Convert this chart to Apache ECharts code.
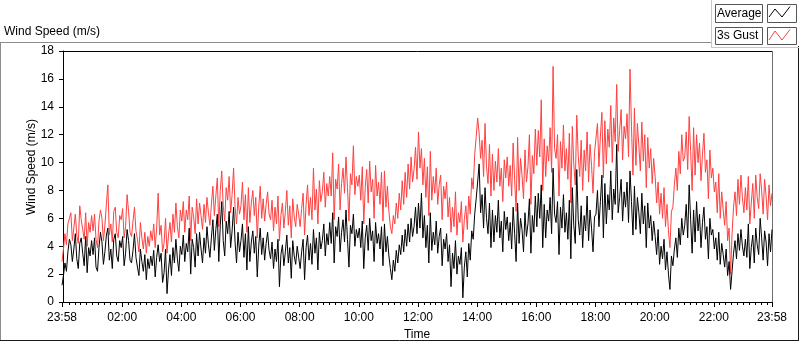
<!DOCTYPE html>
<html>
<head>
<meta charset="utf-8">
<script src="https://cdn.jsdelivr.net/npm/echarts@6/dist/echarts.min.js"></script>
<style>
  html, body { margin: 0; padding: 0; background: #fff; }
  #main { width: 800px; height: 342px; }
</style>
</head>
<body>
<div id="main"></div>
<script>
// samples every 3 minutes, first one at 23:58 of the previous day (one row = one hour)
var startMinute = -2;
var stepMinutes = 3;

var avgSpeed = [
  1.2, 1.9, 2.8, 2.2, 3.6, 4.5, 4.1, 2.9, 3.8, 4.9, 3.1, 2.4, 4.2, 4.6, 3.5, 2.6, 4.7, 2.1, 3.9, 3.3,
  4.4, 3.4, 4.6, 2.5, 2.2, 3.9, 5.0, 4.3, 2.7, 3.6, 4.8, 5.3, 3.0, 3.8, 2.4, 4.5, 4.9, 3.3, 2.9, 4.4,
  3.9, 4.7, 2.6, 3.5, 5.2, 4.4, 3.0, 2.8, 3.7, 4.9, 3.2, 2.5, 1.9, 3.8, 2.9, 2.2, 3.4, 1.6, 3.1, 2.4,
  3.3, 2.6, 3.7, 1.8, 3.2, 4.1, 2.9, 3.5, 1.4, 2.1, 3.8, 0.6, 2.3, 3.4, 1.9, 3.9, 2.8, 4.5, 3.1, 2.2,
  4.0, 3.4, 4.8, 2.9, 4.2, 3.6, 5.3, 2.0, 4.5, 3.9, 2.5, 4.9, 3.3, 5.0, 3.8, 2.8, 4.6, 3.5, 5.4, 4.1,
  3.2, 4.6, 5.9, 3.7, 5.2, 6.3, 2.9, 5.5, 7.2, 4.4, 3.3, 5.8, 4.9, 6.5, 3.9, 5.1, 6.8, 4.3, 2.8, 5.0,
  3.6, 4.4, 5.6, 3.2, 4.9, 2.3, 5.4, 2.9, 4.3, 5.1, 3.5, 4.7, 1.8, 4.0, 5.3, 3.4, 4.6, 3.0, 4.2, 5.0,
  3.7, 3.1, 4.3, 2.4, 3.8, 2.9, 4.5, 1.1, 3.4, 4.1, 2.6, 3.6, 4.8, 2.8, 3.9, 1.7, 4.4, 3.3, 2.7, 4.0,
  3.2, 2.4, 3.6, 4.5, 1.6, 3.9, 4.8, 3.0, 4.2, 2.7, 5.2, 3.5, 4.6, 2.3, 5.0, 3.8, 4.4, 5.6, 3.3, 4.9,
  4.1, 5.7, 4.2, 6.4, 2.8, 5.4, 4.7, 6.1, 3.6, 5.0, 5.9, 4.3, 6.6, 4.5, 2.5, 5.5, 4.9, 6.3, 4.0, 5.2,
  4.6, 5.3, 3.9, 5.8, 2.4, 4.6, 5.5, 3.7, 6.0, 4.4, 5.1, 2.9, 5.7, 4.2, 4.9, 3.8, 5.4, 2.6, 5.6, 3.6,
  4.7, 3.3, 2.4, 1.6, 3.0, 2.2, 3.7, 2.8, 4.1, 3.4, 4.8, 3.6, 5.2, 4.0, 5.6, 4.3, 6.0, 4.7, 5.4, 6.8,
  4.9, 7.1, 5.3, 7.8, 4.6, 6.2, 3.9, 5.5, 2.8, 6.4, 3.7, 5.0, 4.1, 5.8, 3.5, 4.7, 5.3, 2.6, 4.5, 3.8,
  4.9, 2.9, 4.1, 1.1, 3.5, 2.4, 4.4, 2.0, 3.3, 2.7, 3.9, 0.3, 2.5, 3.6, 1.8, 4.2, 3.0, 5.1, 4.5, 6.3,
  7.4, 8.6, 9.9, 6.4, 7.7, 5.3, 8.2, 6.0, 4.9, 7.1, 3.9, 6.6, 4.3, 6.2, 5.0, 7.3, 4.6, 5.8, 3.6, 6.5,
  5.2, 6.1, 4.4, 5.7, 3.8, 6.8, 4.9, 2.9, 7.1, 4.2, 6.0, 5.2, 3.6, 6.4, 4.7, 5.6, 7.4, 3.5, 6.2, 5.0,
  7.6, 5.4, 7.8, 6.0, 8.4, 3.9, 7.0, 4.6, 6.6, 5.8, 7.5, 4.9, 9.6, 6.3, 5.7, 7.2, 3.4, 6.8, 5.3, 7.7,
  5.0, 6.4, 4.5, 7.3, 3.1, 8.2, 5.5, 4.2, 9.5, 5.9, 4.8, 6.9, 3.9, 6.2, 5.1, 7.6, 4.4, 6.6, 5.3, 3.6,
  6.1, 6.3, 8.0, 5.4, 7.2, 9.1, 4.6, 8.5, 5.6, 7.7, 6.6, 9.4, 5.9, 8.1, 7.0, 11.3, 6.4, 7.5, 8.8, 5.8,
  7.9, 6.8, 8.6, 5.7, 9.4, 7.2, 4.8, 8.3, 5.2, 7.5, 6.4, 4.9, 7.8, 5.6, 6.9, 3.9, 7.1, 5.3, 6.2, 4.4,
  5.8, 4.7, 3.4, 5.2, 2.7, 4.0, 3.1, 4.5, 2.3, 3.6, 2.0, 0.9, 3.3, 2.6, 3.8, 4.6, 3.2, 5.3, 4.1, 6.0,
  4.8, 5.5, 7.0, 4.6, 8.4, 5.9, 3.5, 6.6, 4.3, 7.2, 5.1, 6.3, 3.9, 5.7, 6.8, 4.5, 5.4, 3.1, 6.0, 4.8,
  5.2, 3.8, 4.6, 3.0, 5.0, 2.7, 4.2, 3.4, 2.5, 3.8, 1.9, 2.9, 0.9, 2.2, 3.5, 4.4, 3.1, 4.9, 3.7, 5.2,
  4.0, 3.3, 4.5, 3.2, 5.6, 2.4, 3.9, 4.8, 2.8, 5.3, 4.1, 3.4, 6.0, 4.6, 3.0, 5.1, 4.3, 2.6, 4.9, 3.6,
  5.2
];

var gustSpeed = [
  2.9, 3.8, 4.9, 4.1, 5.6, 6.0, 6.4, 4.4, 5.3, 6.3, 4.8, 4.2, 6.9, 5.9, 5.2, 4.5, 6.4, 4.0, 5.7, 5.0,
  6.2, 5.1, 6.3, 4.5, 3.9, 5.8, 6.6, 6.0, 4.4, 5.5, 7.0, 8.4, 4.8, 5.6, 4.3, 6.5, 6.8, 5.0, 4.6, 6.2,
  5.9, 6.7, 4.6, 5.4, 7.7, 6.5, 5.0, 4.7, 5.8, 6.8, 5.1, 4.5, 3.6, 5.7, 4.6, 3.8, 5.0, 3.5, 4.7, 4.0,
  5.1, 4.4, 5.6, 3.9, 5.3, 7.8, 4.8, 5.5, 3.6, 4.2, 6.0, 3.5, 4.8, 5.7, 4.3, 6.3, 5.0, 7.1, 5.4, 4.6,
  6.6, 5.8, 7.2, 5.0, 6.6, 5.9, 7.6, 4.4, 6.8, 6.1, 4.9, 7.4, 5.6, 7.1, 6.2, 5.2, 7.0, 5.7, 7.5, 6.4,
  5.5, 7.0, 8.3, 6.2, 7.6, 8.9, 5.4, 8.0, 9.4, 6.9, 5.8, 8.2, 7.3, 9.0, 6.4, 7.7, 9.6, 6.8, 5.6, 7.5,
  6.3, 6.9, 8.6, 5.9, 7.7, 5.0, 8.2, 5.7, 7.1, 8.0, 6.2, 7.5, 4.6, 6.8, 8.3, 6.0, 7.4, 5.8, 7.0, 7.9,
  6.3, 5.9, 7.3, 5.1, 6.8, 5.6, 7.6, 4.4, 6.2, 7.1, 5.3, 6.5, 8.0, 5.5, 6.9, 4.6, 7.4, 6.1, 5.4, 7.0,
  6.3, 5.4, 6.7, 7.8, 4.8, 7.0, 8.4, 6.2, 7.5, 5.9, 9.6, 6.6, 8.1, 5.6, 8.7, 7.2, 7.9, 9.3, 6.8, 8.5,
  7.6, 9.0, 7.6, 10.7, 5.9, 8.8, 8.1, 9.9, 6.6, 8.5, 9.6, 7.8, 10.4, 8.2, 5.8, 9.2, 8.4, 11.2, 7.7, 9.0,
  8.3, 9.1, 7.3, 9.7, 5.6, 8.2, 9.5, 7.1, 10.1, 7.9, 8.8, 6.0, 9.8, 7.6, 8.6, 7.0, 9.3, 5.8, 9.4, 6.8,
  8.3, 6.5, 5.4, 4.9, 6.2, 5.6, 7.1, 6.0, 7.8, 6.6, 8.7, 7.0, 9.3, 7.5, 9.9, 8.1, 10.4, 8.6, 9.5, 11.1,
  8.8, 12.2, 9.6, 11.0, 8.4, 10.3, 7.5, 9.7, 6.2, 10.8, 7.3, 9.0, 7.8, 9.6, 7.0, 8.4, 9.1, 5.9, 8.3, 7.4,
  8.6, 6.1, 7.5, 5.0, 6.8, 5.4, 7.9, 4.8, 6.4, 5.7, 7.2, 4.3, 5.9, 6.9, 5.2, 7.6, 6.3, 8.9, 8.1, 10.6,
  11.8, 13.2, 12.1, 10.3, 11.6, 9.0, 12.8, 9.7, 8.5, 11.3, 7.6, 10.6, 8.0, 10.1, 8.6, 11.0, 8.3, 9.6, 7.2, 10.2,
  8.9, 10.4, 8.3, 9.8, 7.6, 11.4, 8.8, 6.5, 11.8, 8.0, 10.3, 9.1, 7.4, 10.9, 8.6, 9.7, 12.0, 7.0, 10.5, 9.2,
  12.4, 9.8, 12.3, 10.4, 14.5, 8.0, 11.7, 9.0, 11.2, 10.1, 12.5, 9.3, 16.9, 11.0, 10.3, 12.0, 7.6, 11.5, 9.6, 12.7,
  9.4, 11.0, 8.8, 12.1, 7.1, 12.6, 9.9, 8.4, 13.4, 10.5, 9.0, 11.6, 8.0, 10.9, 9.4, 12.2, 8.6, 11.3, 9.8, 7.8,
  10.7, 10.6, 12.8, 9.7, 11.9, 13.6, 8.9, 13.0, 9.9, 12.4, 11.1, 14.1, 10.0, 13.2, 11.5, 15.6, 10.8, 12.3, 13.8, 10.2,
  12.6, 11.7, 13.5, 10.4, 16.7, 12.6, 9.1, 13.9, 9.8, 12.8, 11.2, 9.4, 12.9, 10.1, 12.0, 8.2, 11.8, 9.6, 11.0, 8.5,
  10.3, 9.0, 7.1, 8.6, 6.3, 7.8, 6.0, 8.2, 5.4, 7.0, 5.1, 3.9, 6.5, 6.8, 8.4, 9.6, 8.0, 10.8, 9.2, 12.0,
  10.1, 10.4, 12.2, 9.5, 13.3, 10.8, 8.0, 12.5, 9.1, 12.0, 10.0, 11.4, 8.7, 10.6, 12.1, 9.3, 10.2, 7.4, 10.9, 8.9,
  9.6, 7.9, 8.6, 6.4, 9.2, 6.0, 7.9, 6.6, 5.5, 7.2, 4.4, 5.3, 2.0, 4.9, 6.8, 7.9, 6.2, 8.8, 7.0, 9.1,
  7.5, 6.4, 8.2, 6.6, 9.0, 5.6, 7.1, 8.5, 6.0, 9.1, 7.5, 6.7, 9.2, 8.0, 6.3, 8.8, 7.6, 5.9, 8.4, 6.9,
  7.8
];

// x axis: minutes since midnight
var xTickMinutes = [-2, 120, 240, 360, 480, 600, 720, 840, 960, 1080, 1200, 1320, 1438];
var xTickLabels = ['23:58', '02:00', '04:00', '06:00', '08:00', '10:00', '12:00',
                   '14:00', '16:00', '18:00', '20:00', '22:00', '23:58'];
var xMinorMinutes = [];
for (var m = 0; m <= 1428; m += 12) {
  if (m % 120 !== 0) xMinorMinutes.push(m);
}

function toPairs(values) {
  return values.map(function (v, i) { return [startMinute + i * stepMinutes, v]; });
}

var font = 'Liberation Sans, Arial, sans-serif';
var chart = echarts.init(document.getElementById('main'), null, { renderer: 'canvas' });

var option = {
  animation: false,
  backgroundColor: '#fff',
  grid: { left: 62, right: 28, top: 51, bottom: 40, containLabel: false, outerBoundsMode: 'none' },
  xAxis: [{
    type: 'value',
    min: -2,
    max: 1438,
    name: 'Time',
    nameLocation: 'middle',
    nameGap: 27,
    nameTextStyle: { fontFamily: font, fontSize: 12, color: '#000' },
    axisLine: { show: true, lineStyle: { color: '#000', width: 1 } },
    axisTick: { show: true, length: 5, lineStyle: { color: '#000' }, customValues: xTickMinutes },
    axisLabel: {
      fontFamily: font, fontSize: 12, color: '#000', margin: 10,
      customValues: xTickMinutes,
      formatter: function (v) {
        var i = xTickMinutes.indexOf(v);
        return i >= 0 ? xTickLabels[i] : '';
      }
    },
    splitLine: { show: false }
  }, {
    type: 'value',
    min: -2,
    max: 1438,
    position: 'bottom',
    axisLine: { show: false },
    axisTick: { show: true, length: 3, lineStyle: { color: '#000' }, customValues: xMinorMinutes },
    axisLabel: { show: false },
    splitLine: { show: false }
  }],
  yAxis: {
    type: 'value',
    min: 0,
    max: 18,
    interval: 2,
    axisLine: { show: true, lineStyle: { color: '#000' } },
    axisTick: { show: true, length: 4, lineStyle: { color: '#000' } },
    axisLabel: { fontFamily: font, fontSize: 12, color: '#000', margin: 8 },
    splitLine: { show: false }
  },
  series: [{
    name: '3s Gust',
    type: 'line',
    data: toPairs(gustSpeed),
    showSymbol: false,
    lineStyle: { color: '#ff4040', width: 1 },
    z: 2
  }, {
    name: 'Average',
    type: 'line',
    data: toPairs(avgSpeed),
    showSymbol: false,
    lineStyle: { color: '#000', width: 1 },
    z: 3
  }],
  graphic: [
    // outer panel frame
    { type: 'line', shape: { x1: 0, y1: 42.5, x2: 712, y2: 42.5 }, style: { stroke: '#8c8c8c', lineWidth: 1 } },
    { type: 'line', shape: { x1: 0.5, y1: 42, x2: 0.5, y2: 341 }, style: { stroke: '#8c8c8c', lineWidth: 1 } },
    { type: 'line', shape: { x1: 0, y1: 340.5, x2: 799, y2: 340.5 }, style: { stroke: '#1a1a1a', lineWidth: 1 } },
    { type: 'line', shape: { x1: 798.5, y1: 46, x2: 798.5, y2: 341 }, style: { stroke: '#1a1a1a', lineWidth: 1 } },
    // legend panel
    { type: 'line', shape: { x1: 711.5, y1: 0, x2: 711.5, y2: 48 }, style: { stroke: '#c8c8c8', lineWidth: 1 } },
    { type: 'line', shape: { x1: 711, y1: 47.5, x2: 799, y2: 47.5 }, style: { stroke: '#c8c8c8', lineWidth: 1 } },
    // plot frame top / right
    { type: 'line', shape: { x1: 62, y1: 51.5, x2: 772.5, y2: 51.5 }, style: { stroke: '#000', lineWidth: 1 } },
    { type: 'line', shape: { x1: 772.5, y1: 51, x2: 772.5, y2: 303 }, style: { stroke: '#6e6e6e', lineWidth: 1 } },
    // titles
    { type: 'text', left: 4, top: 26, style: { text: 'Wind Speed (m/s)', fontFamily: font, fontSize: 12, fill: '#000' } },
    { type: 'text', x: 32, y: 167, rotation: Math.PI / 2,
      style: { text: 'Wind Speed (m/s)', fontFamily: font, fontSize: 12, fill: '#000', align: 'center', verticalAlign: 'middle' } },
    // legend
    { type: 'rect', shape: { x: 715.5, y: 4.5, width: 47, height: 18 }, style: { fill: '#fff', stroke: '#555', lineWidth: 1 } },
    { type: 'text', x: 717, y: 13.5, style: { text: 'Average', fontFamily: font, fontSize: 12, fill: '#000', verticalAlign: 'middle' } },
    { type: 'rect', shape: { x: 767.5, y: 4.5, width: 29, height: 18 }, style: { fill: '#fff', stroke: '#555', lineWidth: 1 } },
    { type: 'polyline', shape: { points: [[769, 17], [775, 9], [782, 17], [790, 6.5]] }, style: { stroke: '#000', lineWidth: 1, fill: null } },
    { type: 'rect', shape: { x: 715.5, y: 27.5, width: 47, height: 17 }, style: { fill: '#fff', stroke: '#555', lineWidth: 1 } },
    { type: 'text', x: 717, y: 36, style: { text: '3s Gust', fontFamily: font, fontSize: 12, fill: '#000', verticalAlign: 'middle' } },
    { type: 'rect', shape: { x: 767.5, y: 27.5, width: 29, height: 17 }, style: { fill: '#fff', stroke: '#555', lineWidth: 1 } },
    { type: 'polyline', shape: { points: [[769, 40], [775, 31], [782, 40], [790, 29.5]] }, style: { stroke: '#ff4040', lineWidth: 1, fill: null } }
  ]
};

chart.setOption(option);
</script>
</body>
</html>
